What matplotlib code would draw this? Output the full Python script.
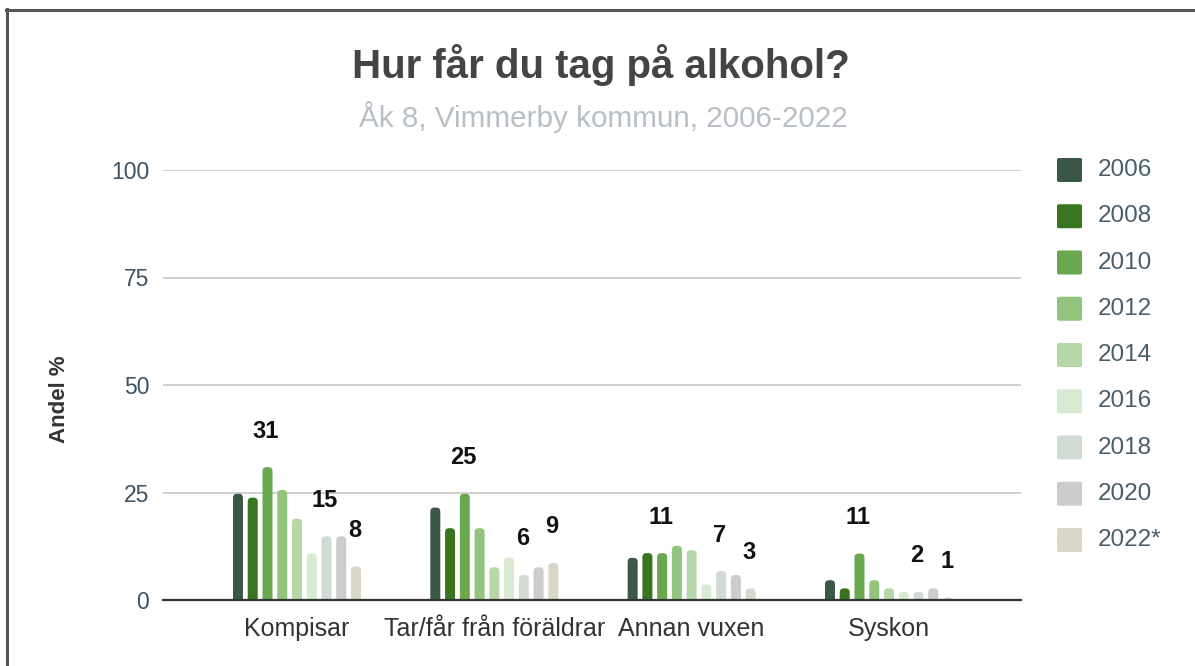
import numpy as np
import matplotlib.pyplot as plt
from matplotlib.patches import FancyBboxPatch
from matplotlib.lines import Line2D

plt.rcParams['font.family'] = ['Liberation Sans', 'DejaVu Sans']

categories = ['Kompisar', 'Tar/får från föräldrar', 'Annan vuxen', 'Syskon']
years = ['2006', '2008', '2010', '2012', '2014', '2016', '2018', '2020', '2022*']
colors = ['#3b5846', '#39741f', '#69a84f', '#93c47d', '#b6d7a8',
          '#d9ead3', '#d0dbd3', '#cccccc', '#d9d7c9']

# andel % per svarsalternativ, ett värde per år
kompisar = [24.7, 23.8, 30.9, 25.6, 18.9, 10.9, 14.8, 14.8, 7.8]
foraldrar = [21.5, 16.7, 24.7, 16.7, 7.6, 9.9, 5.8, 7.6, 8.6]
annan_vuxen = [9.8, 10.9, 10.9, 12.6, 11.6, 3.6, 6.7, 5.8, 2.7]
syskon = [4.6, 2.7, 10.8, 4.6, 2.7, 1.9, 1.9, 2.7, 0.6]

# år som får etikett i diagrammet
labelled_years = ['2010', '2018', '2022*']

values = np.array([kompisar, foraldrar, annan_vuxen, syskon])

fig = plt.figure(figsize=(11.95, 6.66), dpi=100)
ax = fig.add_axes([163/1195, 1 - 600/666, (1021 - 163)/1195, 430/666])

x = np.arange(len(categories))
slot = 14.75 / 197.3
bar_w = 10 / 197.3
aspect = (100 / 430) / (1 / 197.3)
r = 4 / 197.3

for i, (year, col) in enumerate(zip(years, colors)):
    bars = ax.bar(x + (i - 4) * slot, values[:, i], width=bar_w, color=col)
    for b, v in zip(bars, values[:, i]):
        b.set_visible(False)
        fb = FancyBboxPatch((b.get_x(), -1.2), b.get_width(), v + 1.2,
                            boxstyle=f'round,pad=0,rounding_size={r}',
                            mutation_aspect=aspect, fc=col, ec='none',
                            zorder=2)
        ax.add_patch(fb)
        if year in labelled_years:
            ax.annotate(f'{v:.0f}', (b.get_x() + b.get_width() / 2, v),
                        xytext=(-1, 26), textcoords='offset points',
                        ha='center', va='center', fontsize=17,
                        fontweight='bold', color='#111111')

ax.set_xlim(-0.679, 3.669)
ax.set_ylim(0, 100)
ax.set_yticks([0, 25, 50, 75, 100])
ax.set_xticks(x)
ax.set_xticklabels(categories, fontsize=18, color='#333333')
ax.tick_params(axis='y', length=0, pad=10, labelsize=16.5, labelcolor='#3d5263')
ax.tick_params(axis='x', length=0, pad=12)
ax.grid(axis='y', color='#cccccc', linewidth=1.3, zorder=0)
ax.set_axisbelow(True)
for s in ['top', 'right', 'left']:
    ax.spines[s].set_visible(False)
ax.spines['bottom'].set_color('#333333')
ax.spines['bottom'].set_linewidth(1.6)
ax.spines['bottom'].set_zorder(3)

ax.set_ylabel('Andel %', fontsize=16, fontweight='bold', color='#333333')
ax.yaxis.set_label_coords((70 - 163) / 858, (600 - 399) / 430)

fig.text(601/1195, 1 - 78/666, 'Hur får du tag på alkohol?', ha='center',
         va='baseline', fontsize=29, fontweight='bold', color='#444444')
fig.text(603/1195, 1 - 127/666, 'Åk 8, Vimmerby kommun, 2006-2022',
         ha='center', va='baseline', fontsize=21.3, color='#b8bfc5')

# förklaring
for i, (year, col) in enumerate(zip(years, colors)):
    yc = 170 + i * 46.25
    fig.patches.append(FancyBboxPatch((1057/1195, 1 - (yc + 12)/666),
                                      25/1195, 24/666,
                                      boxstyle='round,pad=0,rounding_size=0.002',
                                      transform=fig.transFigure,
                                      fc=col, ec='none'))
    fig.text(1098/1195, 1 - yc/666, year, ha='left', va='center',
             fontsize=17.5, color='#4a5d6b')

# ram
fig.add_artist(Line2D([6/1195, 1], [1 - 10/666, 1 - 10/666], color='#555555',
                      linewidth=2.2, transform=fig.transFigure))
fig.add_artist(Line2D([7/1195, 7/1195], [0, 1 - 9/666], color='#555555',
                      linewidth=2.2, transform=fig.transFigure))

fig.savefig('out.png', dpi=100, facecolor='white')
